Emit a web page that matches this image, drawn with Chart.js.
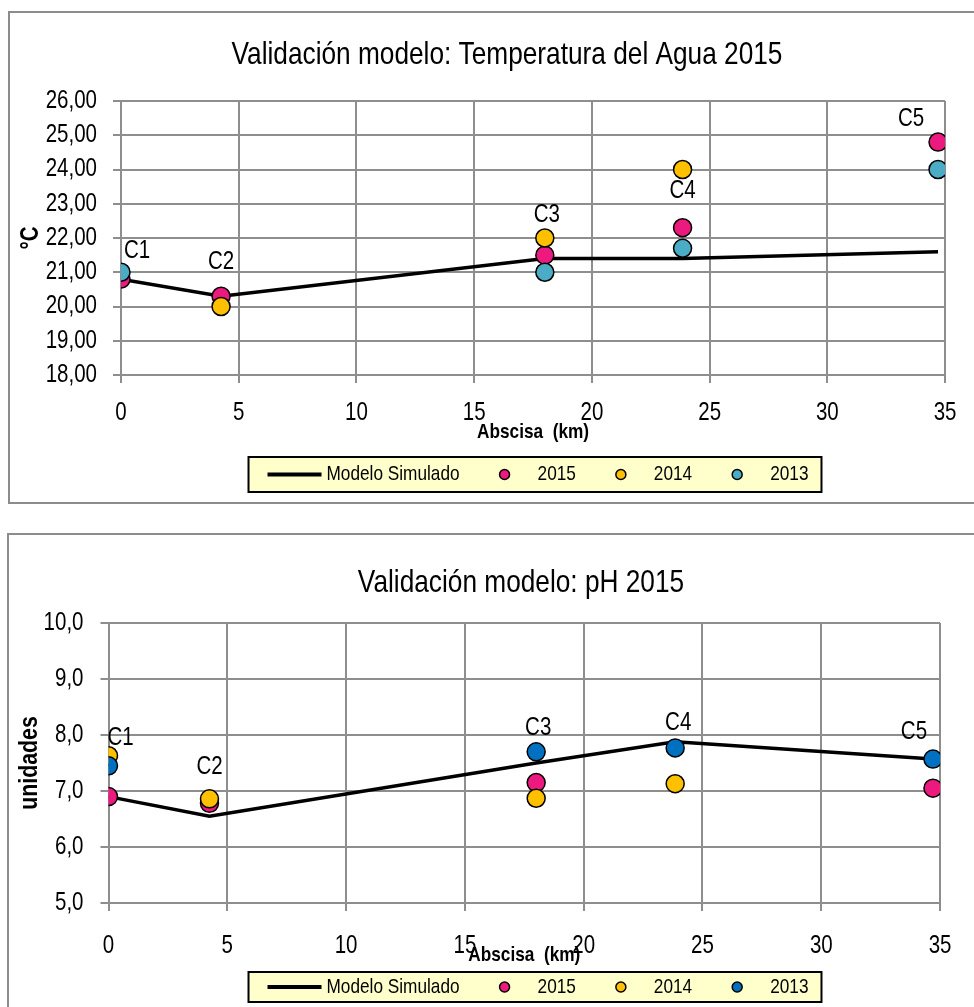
<!DOCTYPE html>
<html>
<head>
<meta charset="utf-8">
<script src="https://cdn.jsdelivr.net/npm/chart.js@4.4.1/dist/chart.umd.min.js"></script>
<style>
  body { margin: 0; background: #fff; width: 974px; height: 1007px; overflow: hidden; position: relative; }
  .frame { position: absolute; border: 2px solid #8c8c8c; box-sizing: border-box; }
  canvas { position: absolute; left: 0; }
</style>
</head>
<body>
<div class="frame" style="left:8px; top:11px; width:1000px; height:493px;"></div>
<div class="frame" style="left:7px; top:533px; width:1000px; height:600px;"></div>
<canvas id="tempChart" width="974" height="505" style="top:0;"></canvas>
<canvas id="phChart" width="974" height="502" style="top:505px;"></canvas>
<script>
// Data
// ------------------------------
var stationNames = ["C1", "C2", "C3", "C4", "C5"];
var stationKm = [0, 4.25, 18, 23.85, 34.7];

var tempModel = [20.8, 20.3, 21.4, 21.4, 21.6];
var temp2015 = [20.8, 20.3, 21.5, 22.3, 24.8];
var temp2014 = [null, 20.0, 22.0, 24.0, null];
var temp2013 = [21.0, null, 21.0, 21.7, 24.0];

var phModel = [6.9, 6.55, 7.5, 7.88, 7.57];
var ph2015 = [6.9, 6.78, 7.15, null, 7.05];
var ph2014 = [7.63, 6.86, 6.87, 7.13, null];
var ph2013 = [7.45, null, 7.7, 7.77, 7.57];

var seriesNames = ["Modelo Simulado", "2015", "2014", "2013"];

var FONT = "'Liberation Sans', Arial, sans-serif";
var NARROW = 0.82; // no Arial Narrow here, so squeeze the text horizontally
var PINK = "#EC1A7E", YELLOW = "#FFC000";

// squeeze every fillText on this canvas around its anchor point
function condense(canvas) {
    var ctx = canvas.getContext("2d");
    var orig = ctx.fillText;
    ctx.fillText = function(t, x, y, w) {
        this.save();
        this.translate(x, y);
        this.scale(NARROW, 1);
        if (w === undefined) orig.call(this, t, 0, 0);
        else orig.call(this, t, 0, 0, w / NARROW);
        this.restore();
    };
    return canvas;
}

function points(values) {
    var out = [];
    values.forEach(function(v, i) {
        if (v !== null) out.push({x: stationKm[i], y: v});
    });
    return out;
}

function markerSet(label, values, color, order) {
    return {
        label: label,
        data: points(values),
        backgroundColor: color,
        borderColor: "#000",
        borderWidth: 1.5,
        pointRadius: 9,
        pointHoverRadius: 9,
        order: order
    };
}

// Chart title, centred on the frame like Excel does
var frameTitlePlugin = {
    id: "frameTitle",
    afterDraw: function(chart, args, opts) {
        var ctx = chart.ctx;
        ctx.save();
        ctx.font = "32px " + FONT;
        ctx.fillStyle = "#000";
        ctx.textAlign = "center";
        ctx.textBaseline = "middle";
        ctx.fillText(opts.text, opts.x, opts.y);
        ctx.restore();
    }
};

// Station labels (C1..C5), placed from the model point with pixel offsets
var stationLabelPlugin = {
    id: "stationLabels",
    afterDatasetsDraw: function(chart, args, opts) {
        var ctx = chart.ctx, xs = chart.scales.x, ys = chart.scales.y;
        ctx.save();
        ctx.font = "25px " + FONT;
        ctx.fillStyle = "#000";
        ctx.textAlign = "center";
        ctx.textBaseline = "middle";
        stationNames.forEach(function(name, i) {
            var off = opts.offsets[i];
            var px = xs.getPixelForValue(stationKm[i]) + off[0];
            var py = ys.getPixelForValue(opts.model[i]) + off[1];
            ctx.fillText(name, px, py);
        });
        ctx.restore();
    }
};

// Legend box like the Excel one
var legendBoxPlugin = {
    id: "legendBox",
    afterDraw: function(chart, args, opts) {
        var ctx = chart.ctx;
        ctx.save();
        ctx.font = "21px " + FONT;
        var widths = seriesNames.map(function(s) { return ctx.measureText(s).width * NARROW; });
        var padL = 19, lineLen = 54, lineGap = 5, dotGap = 33, itemGap = 45, padR = 13;
        var total = padL + lineLen + lineGap + widths[0] + padR;
        for (var i = 1; i < 4; i++) total += itemGap + dotGap + widths[i];
        var left = opts.centerX - total / 2, top = opts.top, h = opts.height;
        ctx.fillStyle = "#FFFFCC";
        ctx.fillRect(left, top, total, h);
        ctx.strokeStyle = "#000";
        ctx.lineWidth = 2;
        ctx.strokeRect(left, top, total, h);
        var cy = top + h / 2;
        var x = left + padL;
        ctx.lineWidth = 4;
        ctx.beginPath();
        ctx.moveTo(x, cy);
        ctx.lineTo(x + lineLen, cy);
        ctx.stroke();
        x += lineLen + lineGap;
        ctx.fillStyle = "#000";
        ctx.textBaseline = "middle";
        ctx.textAlign = "left";
        ctx.fillText(seriesNames[0], x, cy);
        x += widths[0];
        for (var j = 1; j < 4; j++) {
            x += itemGap;
            ctx.beginPath();
            ctx.arc(x, cy, 5, 0, Math.PI * 2);
            ctx.fillStyle = opts.colors[j - 1];
            ctx.fill();
            ctx.lineWidth = 1.5;
            ctx.strokeStyle = "#000";
            ctx.stroke();
            x += dotGap;
            ctx.fillStyle = "#000";
            ctx.fillText(seriesNames[j], x, cy);
            x += widths[j];
        }
        ctx.restore();
    }
};

function buildChart(id, cfg) {
    var gridColor = "#8e8e8e";
    var config = {
        type: "scatter",
        data: {
            datasets: [
                {
                    type: "line",
                    label: seriesNames[0],
                    data: points(cfg.model),
                    borderColor: "#000",
                    borderWidth: 3.5,
                    pointRadius: 0,
                    showLine: true,
                    tension: 0,
                    order: 4
                },
                markerSet(seriesNames[1], cfg.s2015, PINK, 3),
                markerSet(seriesNames[2], cfg.s2014, YELLOW, 2),
                markerSet(seriesNames[3], cfg.s2013, cfg.color2013, 1)
            ]
        },
        options: {
            responsive: false,
            animation: false,
            layout: { padding: { left: 10, right: cfg.padRight, top: cfg.padTop, bottom: cfg.padBottom } },
            plugins: {
                legend: { display: false },
                tooltip: { enabled: false },
                title: { display: false },
                frameTitle: { text: cfg.title, x: cfg.titleX, y: cfg.titleY },
                stationLabels: { model: cfg.model, offsets: cfg.labelOffsets },
                legendBox: { centerX: 535, top: cfg.legendTop, height: cfg.legendHeight,
                             colors: [PINK, YELLOW, cfg.color2013] }
            },
            scales: {
                x: {
                    type: "linear",
                    min: 0, max: 35,
                    ticks: { stepSize: 5, color: "#000", padding: cfg.xTickPad,
                             font: { family: FONT, size: 25 } },
                    grid: { color: gridColor, lineWidth: 2, tickLength: 8 },
                    border: { color: gridColor, width: 2 },
                    title: { display: true, text: "Abscisa  (km)", color: "#000",
                             padding: 0,
                             font: { family: FONT, size: 21, weight: "bold", lineHeight: 1.2 } },
                    afterFit: function(scale) { scale.height = cfg.xHeight; }
                },
                y: {
                    min: cfg.yMin, max: cfg.yMax,
                    ticks: { stepSize: 1, color: "#000", padding: cfg.yTickPad,
                             font: { family: FONT, size: 25 },
                             callback: function(v) { return v.toFixed(cfg.decimals).replace(".", ","); } },
                    grid: { color: gridColor, lineWidth: 2, tickLength: 8 },
                    border: { color: gridColor, width: 2 },
                    title: { display: true, text: cfg.yTitle, color: "#000",
                             padding: { top: cfg.yTitlePad, bottom: 0 },
                             font: { family: FONT, size: cfg.yTitleSize, weight: "bold", lineHeight: 1.2 } },
                    afterFit: function(scale) { scale.width = cfg.yWidth; }
                }
            }
        },
        plugins: [frameTitlePlugin, stationLabelPlugin, legendBoxPlugin]
    };
    return new Chart(condense(document.getElementById(id)), config);
}

buildChart("tempChart", {
    title: "Validación modelo: Temperatura del Agua 2015",
    titleX: 507, titleY: 55,
    model: tempModel, s2015: temp2015, s2014: temp2014, s2013: temp2013,
    color2013: "#4BACC6",
    yMin: 18, yMax: 26, decimals: 2, yTitle: "°C", yTitleSize: 25, yTitlePad: 6,
    padTop: 101, padRight: 26, padBottom: 60.4, xHeight: 69.6, yWidth: 111,
    xTickPad: 15, yTickPad: 16,
    legendTop: 457, legendHeight: 35,
    labelOffsets: [[16, -28], [0, -34], [2, -43], [0, -67], [-27, -133]]
});

buildChart("phChart", {
    title: "Validación modelo: pH 2015",
    titleX: 521, titleY: 78,
    model: phModel, s2015: ph2015, s2014: ph2014, s2013: ph2013,
    color2013: "#0070C0",
    yMin: 5, yMax: 10, decimals: 1, yTitle: "unidades", yTitleSize: 26, yTitlePad: 4,
    padTop: 118, padRight: 23, padBottom: 39.4, xHeight: 64.6, yWidth: 98.5,
    xTickPad: 20, yTickPad: 17,
    legendTop: 467, legendHeight: 30,
    labelOffsets: [[12, -58], [0, -49], [2, -35], [3, -19], [-19, -27]]
});
</script>
</body>
</html>
